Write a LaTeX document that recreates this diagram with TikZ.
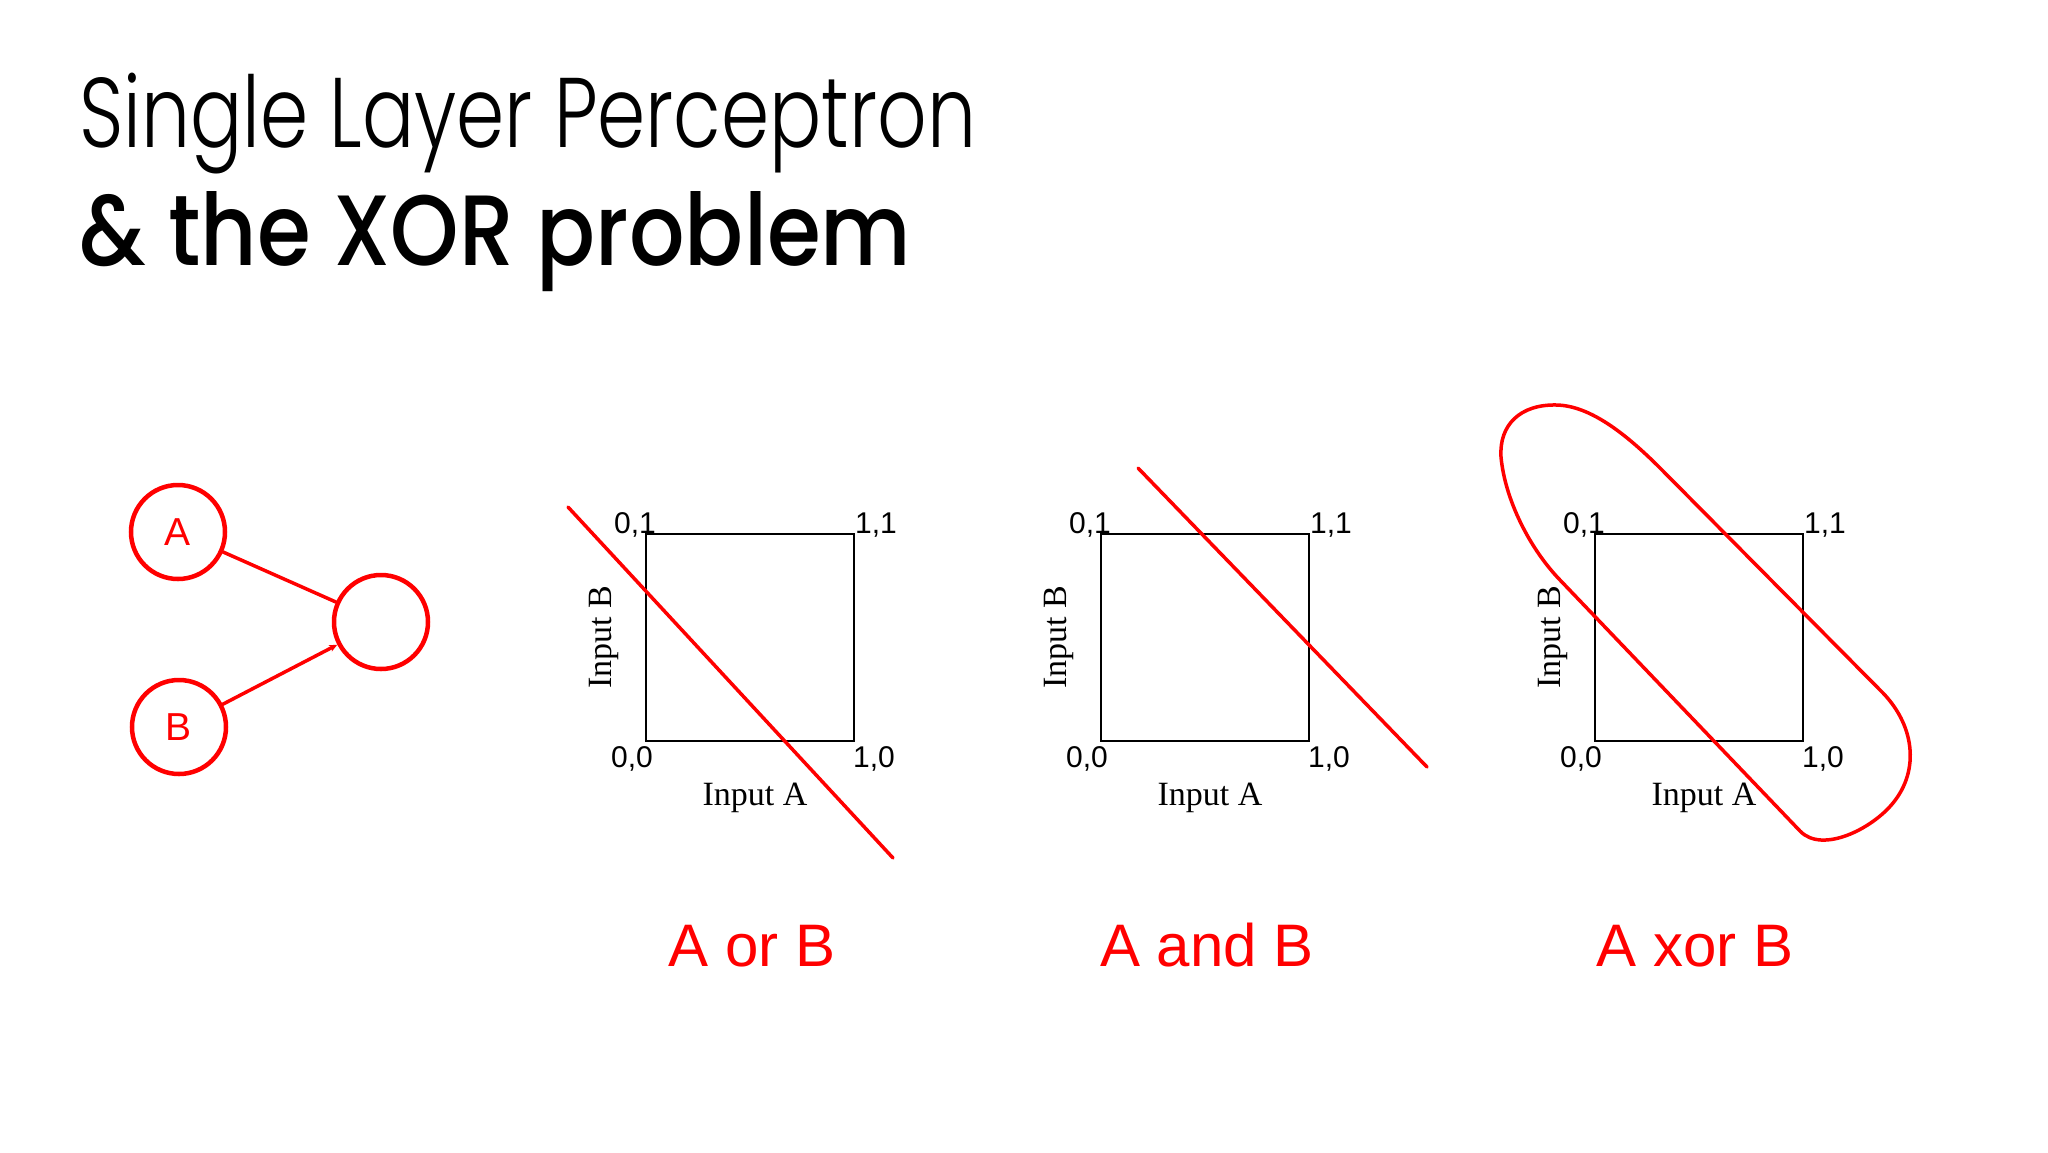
\documentclass[tikz,border=0pt]{standalone}
\usepackage{fontspec}
\usepackage{graphicx}
\usetikzlibrary{arrows.meta}
\newfontfamily\labsans{Liberation Sans}
\newfontfamily\labserif{Liberation Serif}
\IfFontExistsTF{Poppins Light}{\newfontfamily\tlight{Poppins Light}}{\newfontfamily\tlight{Poppins}}
\IfFontExistsTF{Poppins Medium}{\newfontfamily\tbold{Poppins Medium}}{\newfontfamily\tbold{Poppins}[FakeBold=1.5]}
\definecolor{pred}{RGB}{255,0,0}
\tikzset{
  neuron/.style={circle, draw=pred, line width=4.5pt, minimum size=94pt, inner sep=0pt,
    font=\labsans\fontsize{39}{40}\selectfont, text=pred},
  redline/.style={draw=pred, line width=3.5pt, line cap=round, line join=round},
  plotbox/.style={draw=black, line width=2.6pt, minimum width=208pt, minimum height=207pt,
    inner sep=0pt, outer sep=0pt},
  cornerlab/.style={inner sep=0pt, font=\labsans\fontsize{30}{30}\selectfont},
  axislab/.style={inner sep=0pt, font=\labserif\fontsize{34}{34}\selectfont},
  oplab/.style={inner sep=0pt, text=pred, font=\labsans\fontsize{60}{60}\selectfont},
  titlelab/.style={inner sep=0pt, anchor=base west},
}
\newcommand\inputplot[2]{%
  \pgfmathsetmacro\plotL{#2-104}%
  \pgfmathsetmacro\plotR{#2+104}%
  \node[plotbox] (#1box) at (#2,637.5) {};
  \node[cornerlab, anchor=base east] (#1c01) at (\plotL+10,533) {0,1};
  \node[cornerlab, anchor=base west] (#1c11) at (\plotR+1,533) {1,1};
  \node[cornerlab, anchor=base east] (#1c00) at (\plotL+7,767) {0,0};
  \node[cornerlab, anchor=base west] (#1c10) at (\plotR-1,767) {1,0};
  \node[axislab, anchor=base] (#1ia) at (#2+5,805) {Input A};
  \node[axislab, anchor=base, rotate=90] (#1ib) at (\plotL-35,637.5) {Input B};
}
\begin{document}
\begin{tikzpicture}[x=1pt,y=-1pt]
\useasboundingbox (0,0) rectangle (2048,1152);
\fill[white] (0,0) rectangle (2048,1152);

% title
\node[titlelab] (title1) at (79,147)
  {\resizebox{897pt}{\height}{\tlight\fontsize{99}{110}\selectfont Single Layer Perceptron}};
\node[titlelab] (title2) at (79,265)
  {\resizebox{832pt}{\height}{\tbold\fontsize{100}{110}\selectfont \& the XOR problem}};

% perceptron
\node[neuron] (nA) at (178,532) {A};
\node[neuron] (nB) at (179,727) {B};
\node[neuron] (nO) at (381,622) {};
\draw[redline] (nA) -- (nO);
\draw[redline, -{Stealth[length=8pt,width=7pt]}] (nB) -- (nO);

% plots
\inputplot{p1}{750}
\inputplot{p2}{1205}
\inputplot{p3}{1699}

% separating lines
\coordinate (or1) at (568,507);
\coordinate (or2) at (893,858);
\draw[redline] (or1) -- (or2);
\coordinate (and1) at (1138,468);
\coordinate (and2) at (1427,767);
\draw[redline] (and1) -- (and2);

% xor loop
\coordinate (xl) at (1501,457);
\coordinate (xt) at (1557,405);
\coordinate (xu1) at (1660,468);
\coordinate (xu2) at (1880,690);
\coordinate (xr) at (1893,803);
\coordinate (xb) at (1800,831);
\coordinate (xd) at (1560,580);
\draw[redline] (xl) .. controls (1499,425) and (1520,404) .. (xt)
  .. controls (1590,406) and (1625,433) .. (xu1)
  -- (xu2)
  .. controls (1915,724) and (1920,770) .. (xr)
  .. controls (1872,829) and (1822,854) .. (xb)
  -- (xd)
  .. controls (1530,549) and (1505,500) .. (xl) -- cycle;

% operation labels
\node[oplab, anchor=base] (lor) at (752,966) {A or B};
\node[oplab, anchor=base] (land) at (1207,966) {A and B};
\node[oplab, anchor=base] (lxor) at (1695,966) {A xor B};
\end{tikzpicture}
\end{document}
